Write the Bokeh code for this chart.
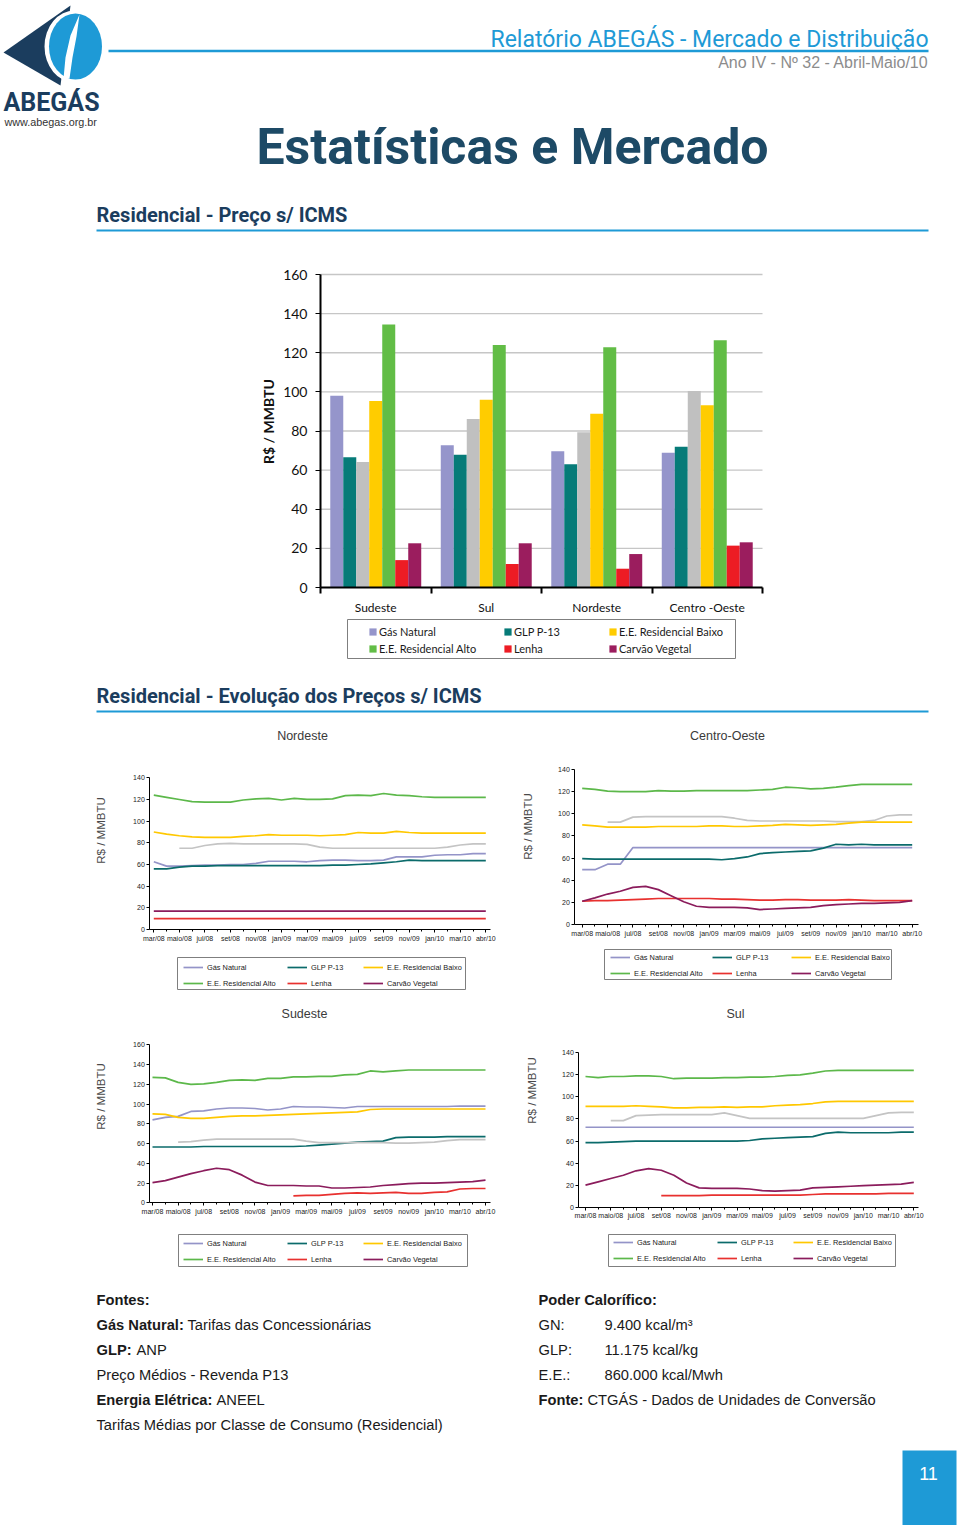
import math
from bokeh.plotting import figure
from bokeh.models import Range1d, ColumnDataSource, Legend, LegendItem, FixedTicker, LinearAxis
from bokeh.layouts import column, row
from bokeh.transform import dodge
from bokeh.core.properties import value
from bokeh.embed import file_html
from bokeh.resources import INLINE

nan = float("nan")

# ---------------- DATA ----------------
regions = ["Sudeste", "Sul", "Nordeste", "Centro -Oeste"]
series_names = ["Gás Natural", "GLP P-13", "Outro", "E.E. Residencial Baixo",
                "E.E. Residencial Alto", "Lenha", "Carvão Vegetal"]
bar_gas_natural = [98.0, 72.7, 69.6, 68.9]
bar_glp_p13 = [66.6, 67.9, 63.0, 72.0]
bar_outro = [64.2, 86.1, 79.4, 100.4]
bar_ee_baixo = [95.3, 96.0, 88.8, 93.1]
bar_ee_alto = [134.5, 124.0, 122.8, 126.4]
bar_lenha = [14.0, 12.0, 9.6, 21.4]
bar_carvao = [22.6, 22.6, 17.1, 23.1]
bar_yticks = [0, 20, 40, 60, 80, 100, 120, 140, 160]

month_labels = ["mar/08", "maio/08", "jul/08", "set/08", "nov/08", "jan/09", "mar/09",
                "mai/09", "jul/09", "set/09", "nov/09", "jan/10", "mar/10", "abr/10"]
months_x = list(range(27))

# Nordeste
nd_gn = [62.5, 58.5, 58.5, 59, 59.5, 59.5, 60, 60, 61, 63, 63, 63, 62.5, 63.5, 64, 64, 63.5, 63.5, 64, 67, 67, 67, 68.5, 69, 69, 70, 70]
nd_glp = [56, 56, 57.5, 58.5, 58.5, 59, 59, 59, 59, 59, 59, 59, 59, 59, 59.5, 59.5, 60, 60.5, 61.5, 62.5, 64, 63.5, 63.5, 63.5, 63.5, 63.5, 63.5]
nd_outro = [nan, nan, 75, 75, 77.5, 79, 79.5, 79, 79, 79, 79, 79, 78.5, 76, 75, 75, 75, 75, 75, 75, 75, 75, 75, 76, 78, 79, 79]
nd_baixo = [90, 88, 86.5, 85.5, 85, 85, 85, 86, 86.5, 87.5, 87, 87, 87, 86.5, 87, 87.5, 89.5, 89, 89, 90.5, 89.5, 89, 89, 89, 89, 89, 89]
nd_alto = [124, 122, 120, 118, 117.5, 117.5, 117.5, 119.5, 120.5, 121, 119.5, 121, 120, 120, 120.5, 123.5, 124, 123.5, 125.5, 124, 123.5, 122.5, 122, 122, 122, 122, 122]
nd_lenha = [10, 10, 10, 10, 10, 10, 10, 10, 10, 10, 10, 10, 10, 10, 10, 10, 10, 10, 10, 10, 10, 10, 10, 10, 10, 10, 10]
nd_carvao = [17, 17, 17, 17, 17, 17, 17, 17, 17, 17, 17, 17, 17, 17, 17, 17, 17, 17, 17, 17, 17, 17, 17, 17, 17, 17, 17]

# Centro-Oeste
co_gn = [49.5, 49.5, 54.5, 54.5, 69.5, 69.5, 69.5, 69.5, 69.5, 69.5, 69.5, 69.5, 69.5, 69.5, 69.5, 69.5, 69.5, 69.5, 69.5, 69.5, 69.5, 69.5, 69.5, 69.5, 69.5, 69.5, 69.5]
co_glp = [59.5, 59, 59, 59, 59, 59, 59, 59, 59, 59, 59, 58.5, 59.5, 61, 64, 65, 65.5, 66, 66.5, 69, 72.5, 72, 72.5, 72, 72, 72, 72]
co_outro = [nan, nan, 92.5, 92.5, 97, 97.5, 97.5, 97.5, 97.5, 97.5, 97.5, 97.5, 96, 94, 93.5, 93.5, 93.5, 93.5, 93.5, 93.5, 93, 93, 93, 94, 98, 99, 99]
co_baixo = [90, 89, 88, 88, 88, 88, 88.5, 88.5, 88.5, 88.5, 89, 89, 88.5, 88.5, 89, 89.5, 90.5, 90, 89.5, 90, 90.5, 91.5, 92.5, 92.5, 92.5, 92.5, 92.5]
co_alto = [123, 122, 120.5, 120, 120, 120, 121, 120.5, 120.5, 121, 121, 121, 121, 121, 121.5, 122, 124, 123.5, 122.5, 123, 124, 125.5, 126.5, 126.5, 126.5, 126.5, 126.5]
co_lenha = [21, 21.5, 21.5, 22, 22.5, 23, 23.5, 23.5, 23.5, 23.5, 23.5, 23, 23, 22.5, 22, 22, 22.5, 22.5, 22, 22, 22, 22.5, 22, 21.5, 21.5, 21.5, 21.5]
co_carvao = [21, 24, 27.5, 30, 33.5, 34.5, 31.5, 26, 20.5, 16.5, 15.5, 15.5, 15.5, 15, 13.5, 14, 14.5, 15, 15.5, 17, 18, 18.5, 19, 19, 19.5, 20, 21.5]

# Sudeste
sd_gn = [84, 86.5, 87.5, 92.5, 93, 95, 96, 96, 95.5, 94, 95, 97.5, 97, 97, 96.5, 96, 97.5, 97.5, 97.5, 97.5, 97.5, 97.5, 97.5, 97.5, 98, 98, 98]
sd_glp = [56.5, 56.5, 56.5, 56.5, 57, 57, 57, 57, 57, 57, 57, 57, 57.5, 58.5, 59.5, 60.5, 61.5, 62, 62.5, 66, 66.5, 66.5, 66.5, 67, 67, 67, 67]
sd_outro = [nan, nan, 61.5, 62, 63.5, 64.5, 64.5, 64.5, 64.5, 64.5, 64.5, 64.5, 62.5, 61, 61, 61, 61, 61, 61, 60.5, 60.5, 61, 61.5, 63, 64, 64, 64]
sd_baixo = [90, 89.5, 86.5, 85.5, 85.5, 86.5, 87.5, 88, 88, 88.5, 89, 89.5, 90, 90.5, 91, 91.5, 92, 94.5, 95, 95, 95, 95, 95, 95, 95, 95, 95]
sd_alto = [127, 126.5, 122, 120, 120.5, 122, 124, 124.5, 124, 126, 126, 127.5, 127.5, 128, 128, 129.5, 130, 133.5, 132.5, 133.5, 134.5, 134.5, 134.5, 134.5, 134.5, 134.5, 134.5]
sd_lenha = [nan, nan, nan, nan, nan, nan, nan, nan, nan, nan, nan, 7, 7.5, 7.5, 8.5, 9.5, 10, 9.5, 10, 10.5, 9.5, 9.5, 10.5, 11, 14, 14.5, 14.5]
sd_carvao = [20.5, 22.5, 26, 29.5, 32.5, 35, 33.5, 28, 21, 17.5, 17.5, 17.5, 17, 17, 15, 15, 15.5, 16, 17.5, 18.5, 19.5, 20, 20, 20.5, 21, 21.5, 23]

# Sul
sl_gn = [72.5, 72.5, 72.5, 72.5, 72.5, 72.5, 72.5, 72.5, 72.5, 72.5, 72.5, 72.5, 72.5, 72.5, 72.5, 72.5, 72.5, 72.5, 72.5, 72.5, 72.5, 72.5, 72.5, 72.5, 72.5, 72.5, 72.5]
sl_glp = [58.5, 58.5, 59, 59.5, 60, 60, 60, 60, 60, 60, 60, 60, 60, 60.5, 62, 62.5, 63, 63.5, 64, 67, 68, 67.5, 67.5, 67.5, 67.5, 68, 68]
sl_outro = [nan, nan, 78.5, 78.5, 83, 83.5, 84, 84, 84, 84, 84, 85.5, 83, 80.5, 80.5, 80.5, 80.5, 80.5, 80.5, 80.5, 80.5, 80.5, 80.5, 83, 85.5, 86, 86]
sl_baixo = [91.5, 91.5, 91.5, 91.5, 92, 91.5, 91, 90, 90, 90.5, 90.5, 91, 90.5, 91, 91, 92, 92.5, 93, 94, 95.5, 96, 96, 96, 96, 96, 96, 96]
sl_alto = [118.5, 117.5, 118.5, 118.5, 119, 119, 118.5, 116.5, 117, 117, 117, 117.5, 117.5, 118, 118, 118.5, 119.5, 120, 121.5, 123.5, 124, 124, 124, 124, 124, 124, 124]
sl_lenha = [nan, nan, nan, nan, nan, nan, 10.5, 10.5, 10.5, 10.5, 11, 11, 11, 11, 11, 11, 11, 11, 11.5, 12, 12, 12, 12, 12, 12.5, 12.5, 12.5]
sl_carvao = [20, 23, 26, 29, 33, 35, 33.5, 29, 22, 17.5, 17, 17, 17, 16.5, 15, 14.5, 15, 15.5, 17.5, 18, 18.5, 19, 19.5, 20, 20.5, 21, 22.5]

# ---------------- STYLE ----------------
BAR_COLORS = ["#9595cb", "#067b78", "#c0c0c0", "#ffcc00", "#62bd46", "#ed1c24", "#9b1d5e"]
LINE_COLORS = ["#9494c8", "#0b6b6b", "#c4c4c4", "#ffc800", "#5cb84a", "#e8312f", "#8b1c5c"]
BLUE = "#1e9ad6"
NAVY = "#1b3d5e"


def lin(v0, p0, v1, p1, q):
    return v0 + (q - p0) * (v1 - v0) / (p1 - p0)


def make_fig(x0, y0, x1, y1, xmap=None, ymap=None):
    w, h = x1 - x0, y1 - y0
    xr = Range1d(lin(*xmap, x0), lin(*xmap, x1)) if xmap else Range1d(x0, x1)
    yr = Range1d(lin(*ymap, y1), lin(*ymap, y0)) if ymap else Range1d(y1, y0)
    p = figure(width=w, height=h, x_range=xr, y_range=yr, output_backend="svg",
               toolbar_location=None, tools="", min_border=0,
               x_axis_location=None, y_axis_location=None,
               outline_line_color=None, background_fill_color="white",
               border_fill_color="white")
    for g in p.grid:
        g.visible = False
    p.extra_x_ranges = {"px": Range1d(x0, x1)}
    p.extra_y_ranges = {"px": Range1d(y1, y0)}
    return p


def txt(p, x, y, s, size, color, bold=False, font="Liberation Sans", align="left",
        angle=0.0):
    p.text(x=[x], y=[y], text=[s], x_range_name="px", y_range_name="px",
           text_font=value(font), text_font_size=f"{size}px", text_color=color,
           text_font_style="bold" if bold else "normal", text_align=align,
           text_baseline="middle", angle=angle)


def box(p, l, t, r, b, color="#7f7f7f"):
    p.quad(left=[l], right=[r], top=[t], bottom=[b], x_range_name="px", y_range_name="px",
           fill_color=None, line_color=color, line_width=1)


def legend_columns(p, fig_box, columns, col_x, bottom, label_h, glyph_w, glyph_h,
                   font, size, standoff):
    x0, y0, x1, y1 = fig_box
    for items, cx in zip(columns, col_x):
        leg = Legend(items=[LegendItem(label=lab, renderers=[r]) for lab, r in items],
                     location=(cx - x0, y1 - bottom), orientation="vertical", padding=0,
                     margin=0, spacing=0, glyph_width=glyph_w, glyph_height=glyph_h,
                     label_height=label_h, label_standoff=standoff, label_text_font=font,
                     label_text_font_size=f"{size}px", label_text_color="#1a1a1a",
                     border_line_color=None, background_fill_alpha=0)
        p.add_layout(leg)


# ---------------- TOP FIGURE (header + bar chart) ----------------
TOP_BOX = (0, 0, 960, 720)
top = make_fig(*TOP_BOX, xmap=(0, 320, 4, 762), ymap=(0, 587, 160, 274))

# logo
top.patch(x=[3, 70, 60], y=[52, 5, 85], x_range_name="px", y_range_name="px",
          fill_color=NAVY, line_color=None)
top.ellipse(x=[74], y=[46], width=[60], height=[72], x_range_name="px", y_range_name="px",
            fill_color="white", line_color=None)
top.ellipse(x=[75], y=[46], width=[53], height=[66], x_range_name="px", y_range_name="px",
            fill_color=BLUE, line_color=None)
top.patch(x=[63, 65, 70, 79, 76, 72, 69], y=[78, 57, 35, 14, 36, 57, 78],
          x_range_name="px", y_range_name="px", fill_color="white", line_color=None)
txt(top, 3, 102, "ABEGÁS", 25, NAVY, bold=True, font="Roboto")
txt(top, 4, 121, "www.abegas.org.br", 10.8, "#333333", font="Liberation Sans")

# header
txt(top, 928, 39, "Relatório ABEGÁS - Mercado e Distribuição", 23, BLUE, font="Roboto",
    align="right")
top.line(x=[108, 928], y=[50.5, 50.5], x_range_name="px", y_range_name="px", color=BLUE, line_width=2.5)
txt(top, 928, 62, "Ano IV - Nº 32 - Abril-Maio/10", 16, "#8c8c8c", align="right")
txt(top, 512, 146, "Estatísticas e Mercado", 50, "#1d4a66", bold=True, font="Roboto",
    align="center")
txt(top, 96, 214, "Residencial - Preço s/ ICMS", 20, NAVY, bold=True, font="Roboto")
top.line(x=[96, 928], y=[230, 230], x_range_name="px", y_range_name="px", color=BLUE, line_width=2)

# bar chart gridlines (data space)
top.segment(x0=[0] * (len(bar_yticks) - 1), x1=[4] * (len(bar_yticks) - 1),
            y0=bar_yticks[1:], y1=bar_yticks[1:], color="#c6c6c6", line_width=1.3)

bar_src = ColumnDataSource(dict(
    x=[i + 0.5 for i in range(len(regions))],
    gn=bar_gas_natural, glp=bar_glp_p13, outro=bar_outro, baixo=bar_ee_baixo,
    alto=bar_ee_alto, lenha=bar_lenha, carvao=bar_carvao))
bar_cols = ["gn", "glp", "outro", "baixo", "alto", "lenha", "carvao"]
bw = 0.1176
bar_r = {}
for j, c in enumerate(bar_cols):
    bar_r[c] = top.vbar(x=dodge("x", (j - 3) * bw, range=top.x_range), top=c, width=bw,
                        bottom=0, source=bar_src, fill_color=BAR_COLORS[j], line_color=None)

yax = LinearAxis(fixed_location=0, bounds=(0, 160), ticker=FixedTicker(ticks=bar_yticks))
yax.axis_line_width = 2
yax.major_tick_out = 5
yax.major_tick_in = 0
yax.minor_tick_line_color = None
yax.major_label_standoff = 8
yax.major_label_text_font = "Lato"
yax.major_label_text_font_size = "14px"
yax.major_label_text_color = "#111111"
top.add_layout(yax, "left")

xax = LinearAxis(fixed_location=0, bounds=(0, 4),
                 ticker=FixedTicker(ticks=[i + 0.5 for i in range(len(regions))],
                                    minor_ticks=list(range(len(regions) + 1))))
xax.major_label_overrides = {i + 0.5: r for i, r in enumerate(regions)}
xax.axis_line_width = 2
xax.major_tick_out = 0
xax.major_tick_in = 0
xax.minor_tick_out = 6
xax.minor_tick_in = 0
xax.minor_tick_line_width = 2
xax.major_label_standoff = 6
xax.major_label_text_font = "Lato"
xax.major_label_text_font_size = "12px"
xax.major_label_text_color = "#111111"
top.add_layout(xax, "below")

txt(top, 268, 421, "R$ / MMBTU", 14, "#111111", bold=True, font="Lato", align="center",
    angle=math.pi / 2)

box(top, 347, 619, 735, 658)
legend_columns(top, TOP_BOX,
               [[(series_names[0], bar_r["gn"]), (series_names[4], bar_r["alto"])],
                [(series_names[1], bar_r["glp"]), (series_names[5], bar_r["lenha"])],
                [(series_names[3], bar_r["baixo"]), (series_names[6], bar_r["carvao"])]],
               [368, 503, 608], 656.5, 17, 9, 9, "Lato", 11, 2)

txt(top, 96, 695, "Residencial - Evolução dos Preços s/ ICMS", 20, NAVY, bold=True,
    font="Roboto")
top.line(x=[96, 928], y=[711, 711], x_range_name="px", y_range_name="px", color=BLUE, line_width=2)


# ---------------- LINE CHARTS ----------------
def line_chart(fig_box, xmap, ymap, yaxis_px, xend_px, ymax, data, title, title_xy,
               ylab_xy, legend_box, col_x, leg_bottom):
    p = make_fig(*fig_box, xmap=xmap, ymap=ymap)
    xa = lin(*xmap, yaxis_px)
    xb = lin(*xmap, xend_px)
    rs = []
    for j, ys in enumerate(data):
        r = p.line(x=months_x, y=ys, color=LINE_COLORS[j], line_width=1.7)
        rs.append(r)
    yt = list(range(0, ymax + 1, 20))
    ya = LinearAxis(fixed_location=xa, bounds=(0, ymax), ticker=FixedTicker(ticks=yt))
    ya.major_tick_out = 3
    ya.major_tick_in = 0
    ya.minor_tick_line_color = None
    ya.major_label_standoff = 2
    ya.major_label_text_font_size = "7px"
    ya.major_label_text_font = "Liberation Sans"
    ya.major_label_text_color = "#222222"
    p.add_layout(ya, "left")
    xt = [2 * k for k in range(len(month_labels))]
    xaxis = LinearAxis(fixed_location=0, bounds=(xa, xb),
                       ticker=FixedTicker(ticks=xt, minor_ticks=months_x))
    xaxis.major_label_overrides = {2 * k: lab for k, lab in enumerate(month_labels)}
    xaxis.major_tick_out = 3
    xaxis.major_tick_in = 0
    xaxis.minor_tick_out = 2
    xaxis.minor_tick_in = 0
    xaxis.major_label_standoff = 2
    xaxis.major_label_text_font_size = "7px"
    xaxis.major_label_text_font = "Liberation Sans"
    xaxis.major_label_text_color = "#222222"
    p.add_layout(xaxis, "below")
    txt(p, title_xy[0], title_xy[1], title, 12.5, "#3a3a3a", align="center")
    txt(p, ylab_xy[0], ylab_xy[1], "R$ / MMBTU", 11.5, "#4a4a4a", align="center",
        angle=math.pi / 2)
    box(p, *legend_box)
    legend_columns(p, fig_box,
                   [[(series_names[0], rs[0]), (series_names[4], rs[4])],
                    [(series_names[1], rs[1]), (series_names[5], rs[5])],
                    [(series_names[3], rs[3]), (series_names[6], rs[6])]],
                   col_x, leg_bottom, 16, 20, 16, "Liberation Sans", 7.4, 4)
    return p


nord = line_chart((0, 720, 505, 1000), (0, 153.3, 26, 485.3), (0, 929, 140, 777.3), 149.3, 490,
                  140, [nd_gn, nd_glp, nd_outro, nd_baixo, nd_alto, nd_lenha, nd_carvao],
                  "Nordeste", (302, 735), (100, 830), (177, 957, 465, 989),
                  [183, 287, 363], 991)
co = line_chart((505, 720, 960, 1000), (0, 581.7, 26, 911.7), (0, 924, 140, 769), 574.3, 918,
                140, [co_gn, co_glp, co_outro, co_baixo, co_alto, co_lenha, co_carvao],
                "Centro-Oeste", (727, 735), (527, 826), (604, 949, 891, 979),
                [610, 712, 791], 981)
sud = line_chart((0, 1000, 505, 1275), (0, 152, 26, 485), (0, 1202.3, 160, 1044.3), 149.3, 490,
                 160, [sd_gn, sd_glp, sd_outro, sd_baixo, sd_alto, sd_lenha, sd_carvao],
                 "Sudeste", (304, 1013), (100, 1096), (178, 1234, 467, 1266),
                 [183, 287, 363], 1267)
sul = line_chart((505, 1000, 960, 1275), (0, 585, 26, 913.3), (0, 1206.7, 140, 1052.3), 578.3, 918,
                 140, [sl_gn, sl_glp, sl_outro, sl_baixo, sl_alto, sl_lenha, sl_carvao],
                 "Sul", (735, 1013), (531, 1090), (608, 1234, 895, 1266),
                 [613, 717, 793], 1266)

# ---------------- FOOTER ----------------
foot = make_fig(0, 1275, 960, 1525)
F = "Liberation Sans"
FS = 14.7
INK = "#1a1a1a"
txt(foot, 96, 1299, "Fontes:", FS, INK, bold=True, font=F)
txt(foot, 96, 1324, "Gás Natural:", FS, INK, bold=True, font=F)
txt(foot, 187, 1324, "Tarifas das Concessionárias", FS, INK, font=F)
txt(foot, 96, 1349, "GLP:", FS, INK, bold=True, font=F)
txt(foot, 136, 1349, "ANP", FS, INK, font=F)
txt(foot, 96, 1374, "Preço Médios - Revenda P13", FS, INK, font=F)
txt(foot, 96, 1399, "Energia Elétrica:", FS, INK, bold=True, font=F)
txt(foot, 216, 1399, "ANEEL", FS, INK, font=F)
txt(foot, 96, 1424, "Tarifas Médias por Classe de Consumo (Residencial)", FS, INK, font=F)

txt(foot, 538, 1299, "Poder Calorífico:", FS, INK, bold=True, font=F)
txt(foot, 538, 1324, "GN:", FS, INK, font=F)
txt(foot, 604, 1324, "9.400 kcal/m³", FS, INK, font=F)
txt(foot, 538, 1349, "GLP:", FS, INK, font=F)
txt(foot, 604, 1349, "11.175 kcal/kg", FS, INK, font=F)
txt(foot, 538, 1374, "E.E.:", FS, INK, font=F)
txt(foot, 604, 1374, "860.000 kcal/Mwh", FS, INK, font=F)
txt(foot, 538, 1399, "Fonte:", FS, INK, bold=True, font=F)
txt(foot, 587, 1399, "CTGÁS - Dados de Unidades de Conversão", FS, INK, font=F)

foot.quad(left=[902], right=[956], top=[1450], bottom=[1525], x_range_name="px",
          y_range_name="px", fill_color=BLUE, line_color=None)
txt(foot, 928, 1473, "11", 18, "white", font=F, align="center")

layout = column(top, row(nord, co), row(sud, sul), foot)
open("out.html", "w").write(file_html(layout, INLINE))
